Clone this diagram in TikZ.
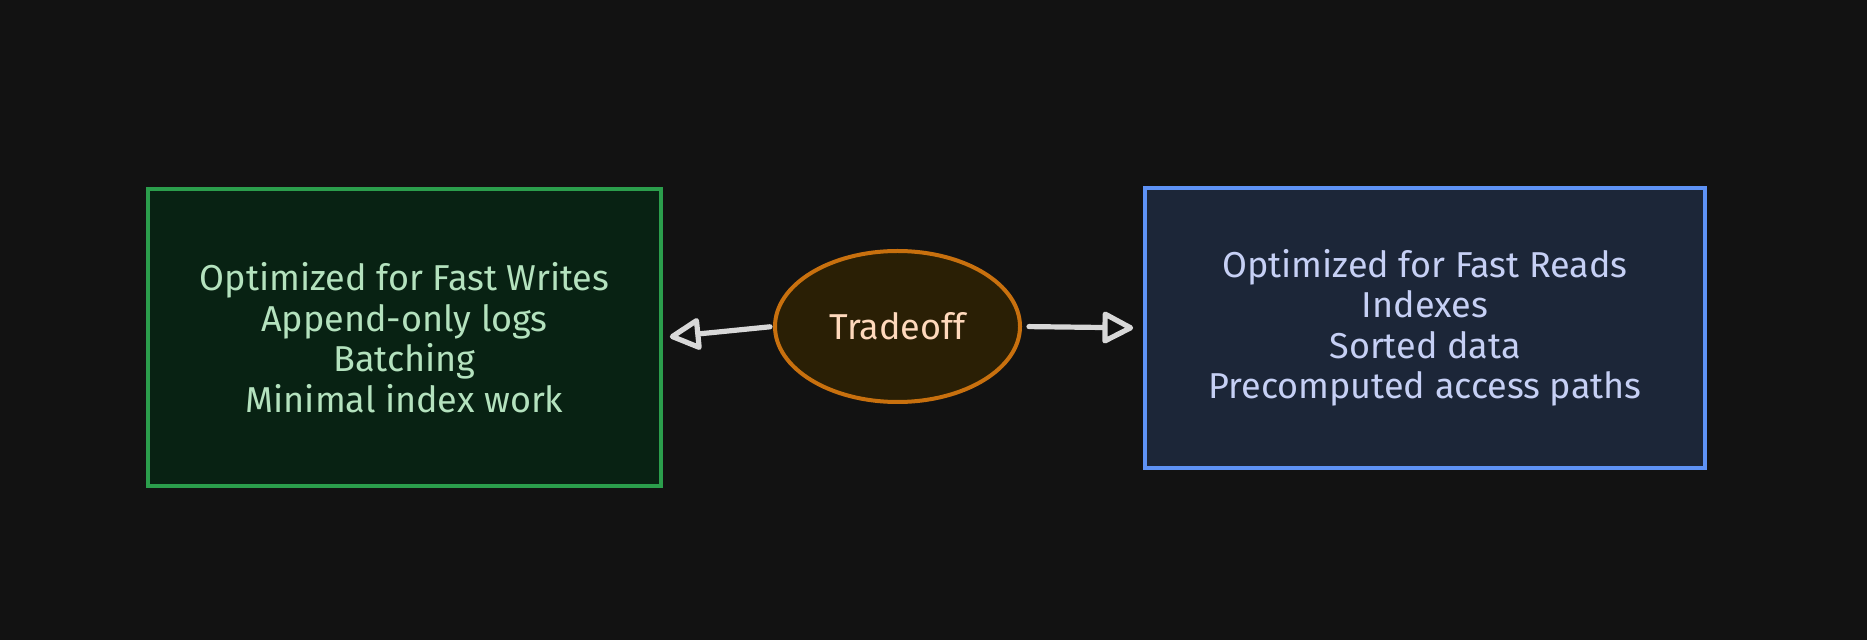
\documentclass[tikz,border=0pt]{standalone}
\usepackage{fontspec}
\setmainfont{Fira Sans}
\usepackage{tikz}
\usetikzlibrary{shapes.geometric}
\usetikzlibrary{arrows.meta}
\definecolor{bgdark}{HTML}{121212}
\definecolor{writeline}{HTML}{2B9E4C}
\definecolor{writefill}{HTML}{082213}
\definecolor{writetext}{HTML}{B4E2BE}
\definecolor{readline}{HTML}{5E92F5}
\definecolor{readfill}{HTML}{1C2638}
\definecolor{readtext}{HTML}{C6D0F5}
\definecolor{tradeline}{HTML}{C8700E}
\definecolor{tradefill}{HTML}{2A1F05}
\definecolor{tradetext}{HTML}{FFD9BC}
\definecolor{arrowgray}{HTML}{D8D8D8}
\tikzset{
  boxnode/.style = {align=center, inner sep=0pt, text centered,
    font=\fontsize{18}{20.25}\selectfont, line width=1.8pt},
  write_box/.style = {boxnode, rectangle, draw=writeline, fill=writefill,
    text=writetext, minimum width=256.5pt, minimum height=148.5pt},% cote ecritures
  read_box/.style = {boxnode, rectangle, draw=readline, fill=readfill,
    text=readtext, minimum width=280pt, minimum height=140pt},% cote lectures
  trade_node/.style = {boxnode, ellipse, draw=tradeline, fill=tradefill,
    text=tradetext, line width=2pt, minimum width=122.5pt, minimum height=75.5pt},% compromis
  link_arrow/.style = {draw=arrowgray, line width=2.6pt, line cap=round,
    -{Triangle[open, length=17pt, width=17pt, round]}}% fleche
}
\begin{document}
\begin{tikzpicture}[x=0.5pt, y=-0.5pt]
        \fill[bgdark] (0,0) rectangle (1867,640);
        \useasboundingbox (0,0) rectangle (1867,640);
      \node [write_box] (writes) at (404.5,337.5)
          {Optimized for Fast Writes\\Append-only logs\\Batching\\Minimal index work};
      \node [trade_node] (trade) at (897.5,326.5) {Tradeoff};
      \node [read_box] (reads) at (1425,328)
          {Optimized for Fast Reads\\Indexes\\Sorted data\\Precomputed access paths};
      \draw [link_arrow, shorten <=1.5pt, shorten >=3.5pt] (trade.west) -- (writes.east);
      \draw [link_arrow, shorten <=3.5pt, shorten >=5pt] (trade.east) -- (reads.west);
\end{tikzpicture}
\end{document}
